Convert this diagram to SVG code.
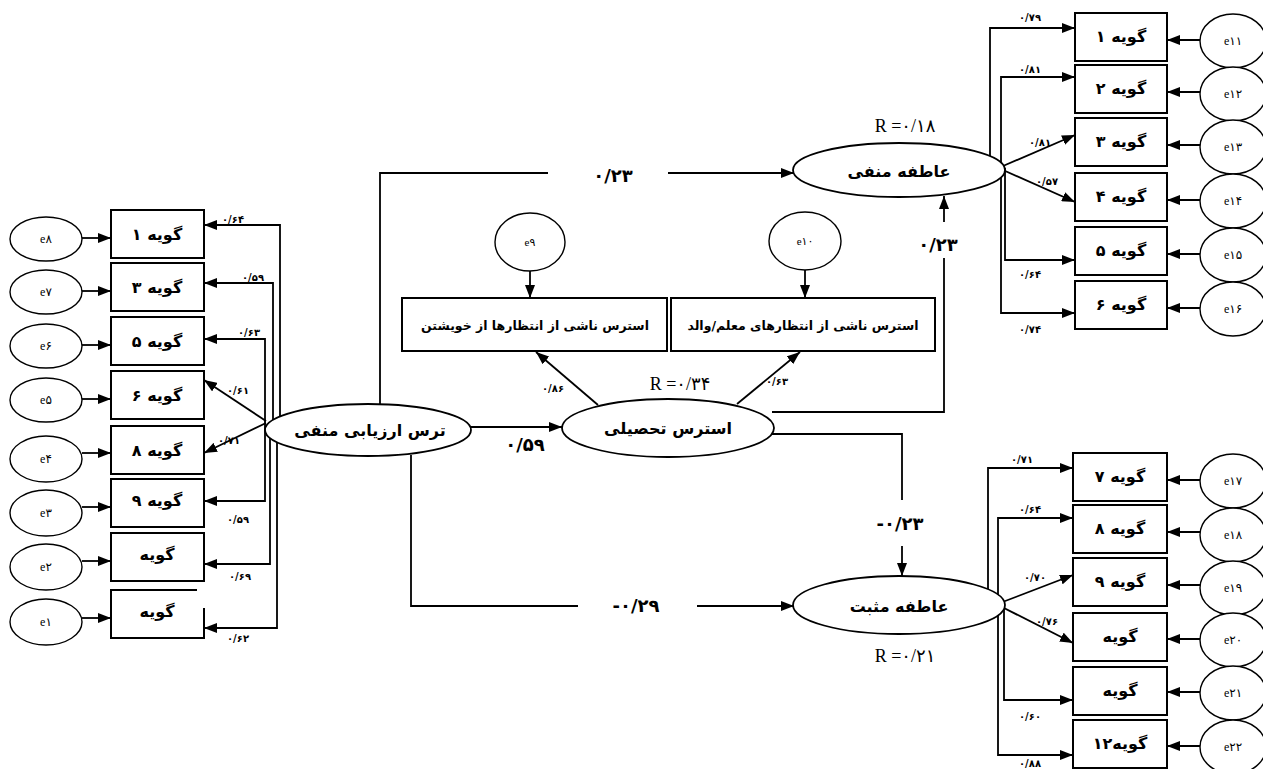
<svg xmlns="http://www.w3.org/2000/svg" width="1263" height="769" viewBox="0 0 1263 769">
<style>
.box{fill:#fff;stroke:#000;stroke-width:2}
.lat{fill:#fff;stroke:#000;stroke-width:1.8}
.err{fill:#fff;stroke:#000;stroke-width:1.4}
.c{fill:none;stroke:#000;stroke-width:1.8}
.ca{fill:none;stroke:#000;stroke-width:1.8;marker-end:url(#ah)}
.fa{font-family:"DejaVu Sans",sans-serif;font-weight:bold;font-size:12.5px;text-anchor:middle;direction:rtl}
.fl{font-family:"DejaVu Sans",sans-serif;font-weight:bold;font-size:16px;text-anchor:middle;direction:rtl}
.e{font-family:"Liberation Serif","DejaVu Sans",serif;font-size:12px;text-anchor:middle}
.s{font-family:"DejaVu Sans",sans-serif;font-weight:bold;font-size:10px;text-anchor:middle}
.p{font-family:"DejaVu Sans",sans-serif;font-weight:bold;font-size:18px;text-anchor:middle}
.r{font-family:"Liberation Serif","DejaVu Sans",serif;font-size:18px;text-anchor:middle}
</style>
<defs>
<marker id="ah" viewBox="0 0 13 10" refX="13" refY="5" markerWidth="13" markerHeight="10" markerUnits="userSpaceOnUse" orient="auto"><path d="M0,0 L13,5 L0,10 z" fill="#000"/></marker>
</defs>

<g id="connectors">
<path class="ca" d="M82,238 H111"/>
<path class="ca" d="M82,291 H111"/>
<path class="ca" d="M82,345 H111"/>
<path class="ca" d="M82,399 H111"/>
<path class="ca" d="M82,453 H111"/>
<path class="ca" d="M82,507 H111"/>
<path class="ca" d="M82,561 H111"/>
<path class="ca" d="M82,618 H111"/>
<path class="ca" d="M280,430 V225 H204"/>
<path class="ca" d="M273,430 V283 H204"/>
<path class="ca" d="M265,430 V339 H204"/>
<path class="ca" d="M266,421 L204,380"/>
<path class="ca" d="M266,423 L204,453"/>
<path class="ca" d="M265,430 V501 H204"/>
<path class="ca" d="M270,430 V564 H204"/>
<path class="ca" d="M277,430 V628 H204"/>
<path class="c" d="M380,405 V173 H548"/>
<path class="ca" d="M668,173 H794"/>
<path class="c" d="M411,455 V606 H578"/>
<path class="ca" d="M697,606 H794"/>
<path class="ca" d="M471,427 H562"/>
<path class="ca" d="M598,405 L536,352"/>
<path class="ca" d="M737,404 L800,352"/>
<path class="ca" d="M530,271 V298"/>
<path class="ca" d="M805,270 V298"/>
<path class="c" d="M772,412 H944 V258"/>
<path class="ca" d="M944,222 V196"/>
<path class="c" d="M772,434 H902 V500"/>
<path class="ca" d="M902,546 V576"/>
<path class="ca" d="M990,168 V28 H1075"/>
<path class="ca" d="M1001,168 V77 H1075"/>
<path class="ca" d="M1003,166 L1075,135"/>
<path class="ca" d="M1003,170 L1075,202"/>
<path class="ca" d="M1005,168 V260 H1075"/>
<path class="ca" d="M1001,168 V313 H1075"/>
<path class="ca" d="M1200,40 H1167"/>
<path class="ca" d="M1200,92 H1167"/>
<path class="ca" d="M1200,145 H1167"/>
<path class="ca" d="M1200,200 H1167"/>
<path class="ca" d="M1200,254 H1167"/>
<path class="ca" d="M1200,308 H1167"/>
<path class="ca" d="M988,605 V468 H1073"/>
<path class="ca" d="M998,605 V518 H1073"/>
<path class="ca" d="M1000,603 L1073,575"/>
<path class="ca" d="M1000,606 L1073,643"/>
<path class="ca" d="M1004,605 V700 H1073"/>
<path class="ca" d="M998,605 V755 H1073"/>
<path class="ca" d="M1200,480 H1167"/>
<path class="ca" d="M1200,532 H1167"/>
<path class="ca" d="M1200,585 H1167"/>
<path class="ca" d="M1200,639 H1167"/>
<path class="ca" d="M1200,692 H1167"/>
<path class="ca" d="M1200,746 H1167"/>
</g>

<g id="loading-labels">
<text class="s" x="233" y="223">۰/۶۴</text>
<text class="s" x="253" y="281">۰/۵۹</text>
<text class="s" x="249" y="336">۰/۶۳</text>
<text class="s" x="238" y="394">۰/۶۱</text>
<text class="s" x="229" y="444">۰/۷۱</text>
<text class="s" x="238" y="523">۰/۵۹</text>
<text class="s" x="240" y="580">۰/۶۹</text>
<text class="s" x="238" y="642">۰/۶۲</text>
<text class="s" x="1030" y="21">۰/۷۹</text>
<text class="s" x="1030" y="73">۰/۸۱</text>
<text class="s" x="1040" y="146">۰/۸۱</text>
<text class="s" x="1047" y="185">۰/۵۷</text>
<text class="s" x="1030" y="278">۰/۶۴</text>
<text class="s" x="1030" y="333">۰/۷۴</text>
<text class="s" x="1022" y="463">۰/۷۱</text>
<text class="s" x="1030" y="513">۰/۶۴</text>
<text class="s" x="1035" y="581">۰/۷۰</text>
<text class="s" x="1047" y="625">۰/۷۶</text>
<text class="s" x="1030" y="720">۰/۶۰</text>
<text class="s" x="1030" y="767">۰/۸۸</text>
<text class="s" x="553" y="392">۰/۸۶</text>
<text class="s" x="777" y="385">۰/۶۳</text>
<text class="p" x="613" y="182">۰/۲۳</text>
<text class="p" x="636" y="612">-۰/۲۹</text>
<text class="p" x="525" y="451">۰/۵۹</text>
<text class="p" x="938" y="251">۰/۲۳</text>
<text class="p" x="900" y="530">-۰/۲۳</text>
<text class="r" x="905" y="132">R =۰/۱۸</text>
<text class="r" x="680" y="390">R =۰/۳۴</text>
<text class="r" x="905" y="662">R =۰/۲۱</text>
</g>

<g id="L1"><rect class="box" x="111" y="210" width="93" height="48"/><text class="fl" x="157" y="240">گویه ۱</text></g>
<g id="L3"><rect class="box" x="111" y="263" width="93" height="48"/><text class="fl" x="157" y="293">گویه ۳</text></g>
<g id="L5"><rect class="box" x="111" y="317" width="93" height="48"/><text class="fl" x="157" y="347">گویه ۵</text></g>
<g id="L6"><rect class="box" x="111" y="371" width="93" height="48"/><text class="fl" x="157" y="401">گویه ۶</text></g>
<g id="L8"><rect class="box" x="111" y="426" width="93" height="48"/><text class="fl" x="157" y="456">گویه ۸</text></g>
<g id="L9"><rect class="box" x="111" y="479" width="93" height="48"/><text class="fl" x="157" y="506">گویه ۹</text></g>
<g id="L10"><rect class="box" x="111" y="533" width="93" height="48"/><text class="fl" x="157" y="560">گویه</text></g>
<g id="L11"><path class="box" d="M197,590 H111 V638 H204 V608"/><text class="fl" x="157" y="617">گویه</text></g>

<g id="e8"><ellipse class="err" cx="46" cy="239" rx="36" ry="22"/><text class="e" x="46" y="243">e۸</text></g>
<g id="e7"><ellipse class="err" cx="46" cy="292" rx="36" ry="22"/><text class="e" x="46" y="296">e۷</text></g>
<g id="e6"><ellipse class="err" cx="46" cy="346" rx="36" ry="22"/><text class="e" x="46" y="350">e۶</text></g>
<g id="e5"><ellipse class="err" cx="46" cy="400" rx="36" ry="22"/><text class="e" x="46" y="404">e۵</text></g>
<g id="e4"><ellipse class="err" cx="46" cy="459" rx="36" ry="23"/><text class="e" x="46" y="463">e۴</text></g>
<g id="e3"><ellipse class="err" cx="46" cy="513" rx="36" ry="23"/><text class="e" x="46" y="517">e۳</text></g>
<g id="e2"><ellipse class="err" cx="46" cy="567" rx="36" ry="23"/><text class="e" x="46" y="571">e۲</text></g>
<g id="e1"><ellipse class="err" cx="46" cy="622" rx="36" ry="23"/><text class="e" x="46" y="626">e۱</text></g>

<g id="fear"><ellipse class="lat" cx="368" cy="430" rx="103" ry="26"/><text class="fl" x="370" y="436">ترس ارزیابی منفی</text></g>
<g id="stress"><ellipse class="lat" cx="668" cy="428" rx="106" ry="29"/><text class="fl" x="668" y="434">استرس تحصیلی</text></g>
<g id="neg"><ellipse class="lat" cx="899" cy="170" rx="106" ry="27"/><text class="fl" x="899" y="177">عاطفه منفی</text></g>
<g id="pos"><ellipse class="lat" cx="899" cy="605" rx="106" ry="29"/><text class="fl" x="899" y="612">عاطفه مثبت</text></g>

<g id="selfbox"><rect class="box" x="402" y="298" width="265" height="53"/><text class="fa" x="535" y="330">استرس ناشی از انتظارها از خویشتن</text></g>
<g id="parbox"><rect class="box" x="671" y="298" width="264" height="53"/><text class="fa" x="803" y="330">استرس ناشی از انتظارهای معلم/والد</text></g>
<g id="e9"><ellipse class="err" cx="530" cy="242" rx="35" ry="29"/><text class="e" x="530" y="246" style="font-size:11px">e۹</text></g>
<g id="e10"><ellipse class="err" cx="805" cy="241" rx="36" ry="29"/><text class="e" x="805" y="245" style="font-size:11px">e۱۰</text></g>

<g id="R1"><rect class="box" x="1075" y="13" width="92" height="48"/><text class="fl" x="1121" y="42">گویه ۱</text></g>
<g id="R2"><rect class="box" x="1075" y="65" width="92" height="48"/><text class="fl" x="1121" y="94">گویه ۲</text></g>
<g id="R3"><rect class="box" x="1075" y="118" width="92" height="48"/><text class="fl" x="1121" y="147">گویه ۳</text></g>
<g id="R4"><rect class="box" x="1075" y="173" width="92" height="48"/><text class="fl" x="1121" y="202">گویه ۴</text></g>
<g id="R5"><rect class="box" x="1075" y="227" width="92" height="48"/><text class="fl" x="1121" y="256">گویه ۵</text></g>
<g id="R6"><rect class="box" x="1075" y="281" width="92" height="48"/><text class="fl" x="1121" y="310">گویه ۶</text></g>
<g id="e11"><ellipse class="err" cx="1233" cy="41" rx="33" ry="27"/><text class="e" x="1233" y="45">e۱۱</text></g>
<g id="e12"><ellipse class="err" cx="1233" cy="94" rx="33" ry="27"/><text class="e" x="1233" y="98">e۱۲</text></g>
<g id="e13"><ellipse class="err" cx="1233" cy="147" rx="33" ry="27"/><text class="e" x="1233" y="151">e۱۳</text></g>
<g id="e14"><ellipse class="err" cx="1233" cy="201" rx="33" ry="27"/><text class="e" x="1233" y="205">e۱۴</text></g>
<g id="e15"><ellipse class="err" cx="1233" cy="255" rx="33" ry="27"/><text class="e" x="1233" y="259">e۱۵</text></g>
<g id="e16"><ellipse class="err" cx="1233" cy="309" rx="33" ry="27"/><text class="e" x="1233" y="313">e۱۶</text></g>

<g id="R7"><rect class="box" x="1073" y="453" width="94" height="48"/><text class="fl" x="1120" y="482">گویه ۷</text></g>
<g id="R8"><rect class="box" x="1073" y="505" width="94" height="48"/><text class="fl" x="1120" y="534">گویه ۸</text></g>
<g id="R9"><rect class="box" x="1073" y="558" width="94" height="48"/><text class="fl" x="1120" y="587">گویه ۹</text></g>
<g id="R10"><rect class="box" x="1073" y="613" width="94" height="48"/><text class="fl" x="1120" y="642">گویه</text></g>
<g id="R11"><rect class="box" x="1073" y="667" width="94" height="48"/><text class="fl" x="1120" y="696">گویه</text></g>
<g id="R12"><rect class="box" x="1073" y="720" width="94" height="48"/><text class="fl" x="1120" y="749">گویه۱۲</text></g>
<g id="e17"><ellipse class="err" cx="1233" cy="481" rx="33" ry="27"/><text class="e" x="1233" y="485">e۱۷</text></g>
<g id="e18"><ellipse class="err" cx="1233" cy="535" rx="33" ry="27"/><text class="e" x="1233" y="539">e۱۸</text></g>
<g id="e19"><ellipse class="err" cx="1233" cy="588" rx="33" ry="27"/><text class="e" x="1233" y="592">e۱۹</text></g>
<g id="e20"><ellipse class="err" cx="1233" cy="640" rx="33" ry="27"/><text class="e" x="1233" y="644">e۲۰</text></g>
<g id="e21"><ellipse class="err" cx="1233" cy="693" rx="33" ry="27"/><text class="e" x="1233" y="697">e۲۱</text></g>
<g id="e22"><ellipse class="err" cx="1233" cy="747" rx="33" ry="27"/><text class="e" x="1233" y="751">e۲۲</text></g>
</svg>
